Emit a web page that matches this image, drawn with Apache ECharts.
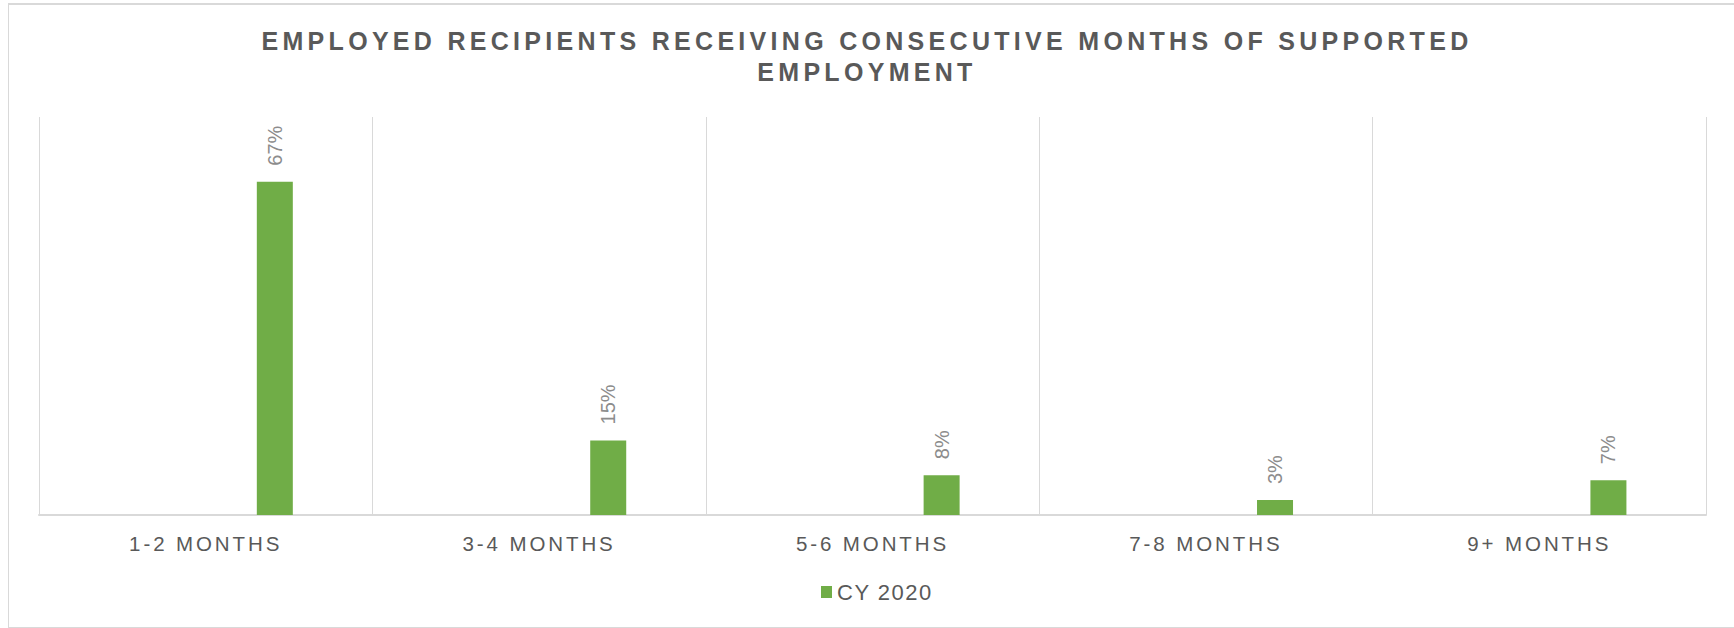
<!DOCTYPE html>
<html>
<head>
<meta charset="utf-8">
<script src="https://cdn.jsdelivr.net/npm/echarts@6/dist/echarts.min.js"></script>
<style>
    html, body { margin: 0; padding: 0; background: #fff; }
    #chart { width: 1734px; height: 628px; }
    #frame {
        position: absolute; left: 8px; top: 3px; width: 1740px; height: 622px;
        border: 1px solid #d9d9d9; border-top-width: 2px; pointer-events: none;
    }
    /* letter spacing, picked out by font size in the svg output */
    #chart text[style*="25px"] { letter-spacing: 4.3px; }
    #chart text[style*="20.5px"] { letter-spacing: 2.9px; }
    #chart text[style*="22px"] { letter-spacing: 1.5px; }
</style>
</head>
<body>
<div id="chart"></div>
<div id="frame"></div>
<script>
    const categories = ['1-2 MONTHS', '3-4 MONTHS', '5-6 MONTHS', '7-8 MONTHS', '9+ MONTHS']
    const cy2020 = [67, 15, 8, 3, 7]
    // earlier years are empty in the source, they only push the 2020 bar right
    const emptyYear = [null, null, null, null, null]

    const chart = echarts.init(document.getElementById('chart'), null, { renderer: 'svg' })

    const blank = name => ({
        name: name,
        type: 'bar',
        barWidth: 36,
        barGap: '92%',
        data: emptyYear
    })

    chart.setOption({
        animation: false,
        title: {
            text: 'EMPLOYED RECIPIENTS RECEIVING CONSECUTIVE MONTHS OF SUPPORTED\nEMPLOYMENT',
            left: 'center',
            top: 20,
            padding: [5, 0, 5, 11],
            textStyle: {
                fontFamily: 'Liberation Sans',
                fontSize: 25,
                fontWeight: 'bold',
                color: '#595959',
                lineHeight: 31
            }
        },
        legend: {
            data: ['CY 2020'],
            left: 816,
            top: 576,
            itemWidth: 11,
            itemHeight: 12,
            icon: 'rect',
            textStyle: {
                fontFamily: 'Liberation Sans',
                fontSize: 22,
                color: '#595959'
            }
        },
        grid: {
            left: 39,
            right: 28,
            top: 117,
            bottom: 113,
            containLabel: false
        },
        xAxis: {
            type: 'category',
            data: categories,
            axisTick: { show: false },
            axisLine: {
                lineStyle: { color: '#d9d9d9', width: 2 }
            },
            splitLine: {
                show: true,
                lineStyle: { color: '#d9d9d9', width: 1 }
            },
            axisLabel: {
                margin: 18,
                fontFamily: 'Liberation Sans',
                fontSize: 20.5,
                lineHeight: 21,
                color: '#595959'
            }
        },
        yAxis: {
            type: 'value',
            min: 0,
            max: 80,
            show: false,
            splitLine: { show: false }
        },
        series: [
            blank('CY 2018'),
            blank('CY 2019'),
            {
                name: 'CY 2020',
                type: 'bar',
                barWidth: 36,
                barGap: '92%',
                data: cy2020,
                itemStyle: { color: '#70ad47' },
                label: {
                    show: true,
                    position: 'top',
                    distance: 16,
                    rotate: 90,
                    align: 'left',
                    verticalAlign: 'middle',
                    formatter: '{c}%',
                    fontFamily: 'Liberation Sans',
                    fontSize: 20,
                    color: '#8c8c8c'
                }
            }
        ]
    })
</script>
</body>
</html>
